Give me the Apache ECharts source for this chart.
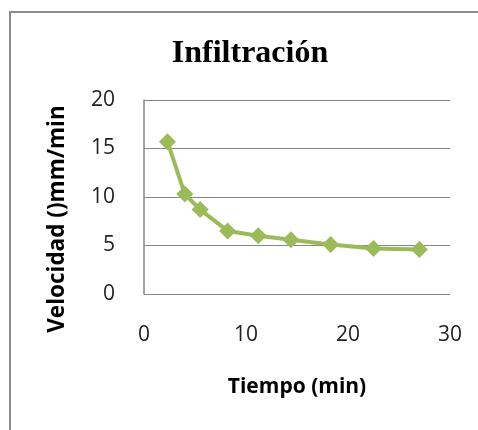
<!DOCTYPE html>
<html>
<head>
<meta charset="utf-8">
<script src="https://cdn.jsdelivr.net/npm/echarts@6/dist/echarts.min.js"></script>
<style>
html,body{margin:0;padding:0;background:#fff;}
#c{width:478px;height:430px;}
#frame{position:absolute;left:9px;top:11px;width:480px;height:430px;border-left:2px solid #8c8c8c;border-top:2px solid #8c8c8c;pointer-events:none;}
</style>
</head>
<body>
<div id="c"></div>
<div id="frame"></div>
<script>
const titleText = 'Infiltración';
const xName = 'Tiempo (min)';
const yName = 'Velocidad ()mm/min';
const tiempo = [2.3, 4.0, 5.5, 8.2, 11.2, 14.4, 18.3, 22.5, 27.0];
const velocidad = [15.7, 10.3, 8.7, 6.5, 6.0, 5.6, 5.1, 4.7, 4.6];

const chart = echarts.init(document.getElementById('c'));
chart.setOption({
  animation: false,
  backgroundColor: '#fff',
  title: {
    text: titleText,
    left: 245, top: 33, textAlign: 'center',
    textStyle: {fontFamily: 'Liberation Serif', fontWeight: 'bold', fontSize: 32, color: '#000'}
  },
  grid: {left: 144, right: 28, top: 100, bottom: 136},
  graphic: [{
    type: 'text', x: 58, y: 219, rotation: Math.PI / 2,
    style: {text: yName, fontFamily: 'Open Sans', fontWeight: 'bold', fontSize: 22.5,
      fill: '#000', align: 'center', verticalAlign: 'middle'}
  }],
  xAxis: {
    type: 'value', min: 0, max: 30, interval: 10,
    name: xName, nameLocation: 'middle', nameGap: 83,
    nameTextStyle: {fontFamily: 'Open Sans', fontWeight: 'bold', fontSize: 21, color: '#000'},
    axisLine: {show: false}, axisTick: {show: false}, splitLine: {show: false},
    axisLabel: {fontFamily: 'Open Sans', fontSize: 21, color: '#222', margin: 31}
  },
  yAxis: {
    type: 'value', min: 0, max: 20, interval: 5,
    axisLine: {show: true, lineStyle: {color: '#868686', width: 1.5}},
    axisTick: {show: false},
    splitLine: {lineStyle: {color: '#868686', width: 1.2}},
    axisLabel: {fontFamily: 'Open Sans', fontSize: 21, color: '#222', margin: 29}
  },
  series: [{
    type: 'line',
    data: tiempo.map((t, i) => [t, velocidad[i]]),
    symbol: 'diamond', symbolSize: 17,
    lineStyle: {color: '#9BBB59', width: 4},
    itemStyle: {color: '#9BBB59'}
  }]
});
</script>
</body>
</html>
